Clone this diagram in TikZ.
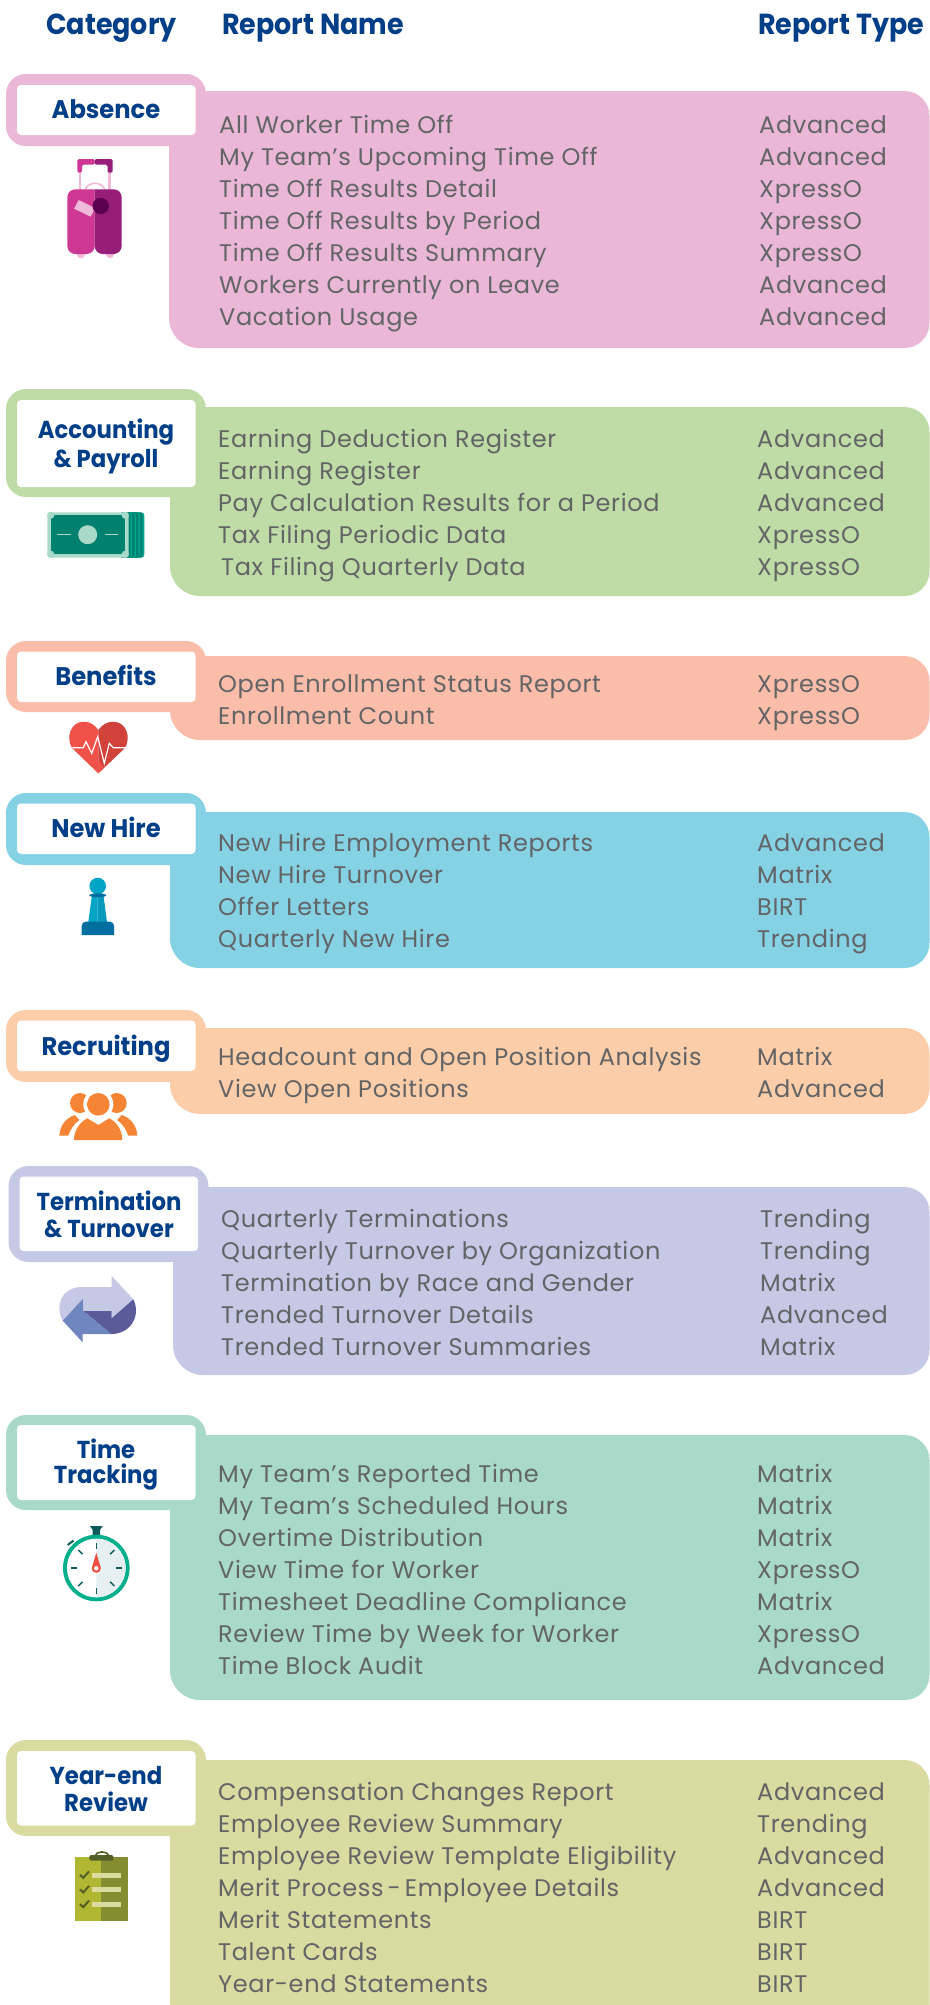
\documentclass[tikz,border=0pt]{standalone}
\usepackage{fontspec}
\usetikzlibrary{calc}
\setmainfont{Poppins}
\newfontfamily\bodyf[LetterSpace=2.7]{Poppins}
\newfontfamily\headf[FakeStretch=0.93]{Poppins}
\newfontfamily\tabf[FakeStretch=0.95]{Poppins}
\newfontfamily\tabn[FakeStretch=0.93]{Poppins}
\definecolor{navy}{HTML}{003F87}
\definecolor{txt}{HTML}{636466}
\definecolor{cAbs}{HTML}{EAB8D6}
\definecolor{cAcc}{HTML}{BFDCA6}
\definecolor{cBen}{HTML}{FABDAA}
\definecolor{cNew}{HTML}{85D2E5}
\definecolor{cRec}{HTML}{FCCDA9}
\definecolor{cTer}{HTML}{C5C9E5}
\definecolor{cTim}{HTML}{A9DAC9}
\definecolor{cYer}{HTML}{D9DBA1}
\tikzset{
  rowtext/.style={anchor=base west,inner sep=0pt,text=txt,font=\bodyf\fontsize{24}{28}\selectfont},
  headtext/.style={anchor=base west,inner sep=0pt,text=navy,font=\headf\bfseries\fontsize{29}{32}\selectfont},
  tabtext/.style={anchor=base,inner sep=0pt,text=navy,font=\tabf\bfseries\fontsize{25.5}{28}\selectfont},
  tabtwo/.style={anchor=base,inner sep=0pt,text=navy,font=\tabn\bfseries\fontsize{24.5}{28}\selectfont},
}
% #1 colour, #2 panel left, #3 panel top, #4 panel bottom, #5 tab left, #6 tab top, #7 tab bottom, #8 inner top, #9 inner bottom
\newcommand{\cardshape}[9]{%
  \fill[#1] (#2,#3) [rounded corners=25pt] -- (929.5,#3) -- (929.5,#4) [rounded corners=30pt] -- (#2,#4) [sharp corners] -- cycle;
  \fill[#1,rounded corners=20pt] (#5,#6) rectangle ++(200,#7-#6);
  \fill[white,rounded corners=4pt] (#5+11,#8) rectangle ++(178.5,#9-#8);
}
\begin{document}
\begin{tikzpicture}[x=1pt,y=-1pt]
\useasboundingbox (0,0) rectangle (929,2005);
\fill[white] (0,0) rectangle (929,2005);
% headers
\node[headtext] (hCat) at (46,34) {Category};
\node[headtext] (hName) at (222,34) {Report Name};
\node[headtext] (hType) at (758,34) {Report Type};
% Cards
\cardshape{cAbs}{169}{91}{348}{6}{74}{146}{85}{135}
\cardshape{cAcc}{170}{407}{596}{6}{389}{497}{400}{487}
\cardshape{cBen}{170}{656}{740}{6}{641}{712}{651.5}{702}
\cardshape{cNew}{170}{812}{968}{6}{793}{865}{803.5}{854}
\cardshape{cRec}{170}{1028}{1114}{6}{1010}{1082}{1020.5}{1071}
\cardshape{cTer}{173}{1187}{1375}{8.5}{1166}{1262}{1176.5}{1251}
\cardshape{cTim}{170}{1435}{1700}{6}{1415}{1510}{1425}{1500}
\cardshape{cYer}{170}{1760}{2030}{6}{1740}{1836}{1751}{1825.5}
% tab labels
\node[tabtext] (tAbs) at (106,118) {Absence};
\node[tabtwo] (tAcc1) at (106,438) {Accounting};
\node[tabtwo] (tAcc2) at (106,467) {\& Payroll};
\node[tabtext] (tBen) at (106,685) {Benefits};
\node[tabtext] (tNew) at (106,837) {New Hire};
\node[tabtext] (tRec) at (106,1055) {Recruiting};
\node[tabtwo] (tTer1) at (109,1210) {Termination};
\node[tabtwo] (tTer2) at (109,1237) {\& Turnover};
\node[tabtwo] (tTim1) at (106,1458) {Time};
\node[tabtwo] (tTim2) at (106,1483) {Tracking};
\node[tabtwo] (tYer1) at (106,1784) {Year-end};
\node[tabtwo] (tYer2) at (106,1811) {Review};
% Absence rows
\node[rowtext] (a1) at (219,133) {All Worker Time Off};
\node[rowtext] (a2) at (219,165) {My Team’s Upcoming Time Off};
\node[rowtext] (a3) at (219,197) {Time Off Results Detail};
\node[rowtext] (a4) at (219,229) {Time Off Results by Period};
\node[rowtext] (a5) at (219,261) {Time Off Results Summary};
\node[rowtext] (a6) at (219,293) {Workers Currently on Leave};
\node[rowtext] (a7) at (219,325) {Vacation Usage};
\node[rowtext] (at1) at (759,133) {Advanced};
\node[rowtext] (at2) at (759,165) {Advanced};
\node[rowtext] (at3) at (759,197) {XpressO};
\node[rowtext] (at4) at (759,229) {XpressO};
\node[rowtext] (at5) at (759,261) {XpressO};
\node[rowtext] (at6) at (759,293) {Advanced};
\node[rowtext] (at7) at (759,325) {Advanced};
% Accounting rows
\node[rowtext] (b1) at (218,447) {Earning Deduction Register};
\node[rowtext] (b2) at (218,479) {Earning Register};
\node[rowtext] (b3) at (218,511) {Pay Calculation Results for a Period};
\node[rowtext] (b4) at (218,543) {Tax Filing Periodic Data};
\node[rowtext] (b5) at (221,575) {Tax Filing Quarterly Data};
\node[rowtext] (bt1) at (757,447) {Advanced};
\node[rowtext] (bt2) at (757,479) {Advanced};
\node[rowtext] (bt3) at (757,511) {Advanced};
\node[rowtext] (bt4) at (757,543) {XpressO};
\node[rowtext] (bt5) at (757,575) {XpressO};
% Benefits rows
\node[rowtext] (c1) at (218,692) {Open Enrollment Status Report};
\node[rowtext] (c2) at (218,724) {Enrollment Count};
\node[rowtext] (ct1) at (757,692) {XpressO};
\node[rowtext] (ct2) at (757,724) {XpressO};
% New Hire rows
\node[rowtext] (d1) at (218,851) {New Hire Employment Reports};
\node[rowtext] (d2) at (218,883) {New Hire Turnover};
\node[rowtext] (d3) at (218,915) {Offer Letters};
\node[rowtext] (d4) at (218,947) {Quarterly New Hire};
\node[rowtext] (dt1) at (757,851) {Advanced};
\node[rowtext] (dt2) at (757,883) {Matrix};
\node[rowtext] (dt3) at (757,915) {BIRT};
\node[rowtext] (dt4) at (757,947) {Trending};
% Recruiting rows
\node[rowtext] (e1) at (218,1065) {Headcount and Open Position Analysis};
\node[rowtext] (e2) at (218,1097) {View Open Positions};
\node[rowtext] (et1) at (757,1065) {Matrix};
\node[rowtext] (et2) at (757,1097) {Advanced};
% Termination rows
\node[rowtext] (f1) at (221,1227) {Quarterly Terminations};
\node[rowtext] (f2) at (221,1259) {Quarterly Turnover by Organization};
\node[rowtext] (f3) at (221,1291) {Termination by Race and Gender};
\node[rowtext] (f4) at (221,1323) {Trended Turnover Details};
\node[rowtext] (f5) at (221,1355) {Trended Turnover Summaries};
\node[rowtext] (ft1) at (760,1227) {Trending};
\node[rowtext] (ft2) at (760,1259) {Trending};
\node[rowtext] (ft3) at (760,1291) {Matrix};
\node[rowtext] (ft4) at (760,1323) {Advanced};
\node[rowtext] (ft5) at (760,1355) {Matrix};
% Time rows
\node[rowtext] (g1) at (218,1482) {My Team’s Reported Time};
\node[rowtext] (g2) at (218,1514) {My Team’s Scheduled Hours};
\node[rowtext] (g3) at (218,1546) {Overtime Distribution};
\node[rowtext] (g4) at (218,1578) {View Time for Worker};
\node[rowtext] (g5) at (218,1610) {Timesheet Deadline Compliance};
\node[rowtext] (g6) at (218,1642) {Review Time by Week for Worker};
\node[rowtext] (g7) at (218,1674) {Time Block Audit};
\node[rowtext] (gt1) at (757,1482) {Matrix};
\node[rowtext] (gt2) at (757,1514) {Matrix};
\node[rowtext] (gt3) at (757,1546) {Matrix};
\node[rowtext] (gt4) at (757,1578) {XpressO};
\node[rowtext] (gt5) at (757,1610) {Matrix};
\node[rowtext] (gt6) at (757,1642) {XpressO};
\node[rowtext] (gt7) at (757,1674) {Advanced};
% Year-end rows
\node[rowtext] (h1) at (218,1800) {Compensation Changes Report};
\node[rowtext] (h2) at (218,1832) {Employee Review Summary};
\node[rowtext] (h3) at (218,1864) {Employee Review Template Eligibility};
\node[rowtext] (h4) at (218,1896) {Merit Process\,-\,Employee Details};
\node[rowtext] (h5) at (218,1928) {Merit Statements};
\node[rowtext] (h6) at (218,1960) {Talent Cards};
\node[rowtext] (h7) at (218,1992) {Year-end Statements};
\node[rowtext] (ht1) at (757,1800) {Advanced};
\node[rowtext] (ht2) at (757,1832) {Trending};
\node[rowtext] (ht3) at (757,1864) {Advanced};
\node[rowtext] (ht4) at (757,1896) {Advanced};
\node[rowtext] (ht5) at (757,1928) {BIRT};
\node[rowtext] (ht6) at (757,1960) {BIRT};
\node[rowtext] (ht7) at (757,1992) {BIRT};
% ---- suitcase
\definecolor{sL}{HTML}{CF3794}\definecolor{sR}{HTML}{971E78}\definecolor{sP}{HTML}{EFB9D9}\definecolor{sD}{HTML}{5B0050}
\fill[sP] (78.7,170) rectangle (81,190);
\fill[sP] (108.3,170) rectangle (110.7,190);
\draw[sP,line width=1.6pt] (85,190) .. controls (88,181) and (102,181) .. (105,190);
\fill[sL,rounded corners=1.5pt] (77.3,172.7) -- (77.3,159) -- (94.7,159) -- (94.7,164.7) -- (82,164.7) -- (82,172.7) -- cycle;
\fill[sR,rounded corners=1.5pt] (112.7,172.7) -- (112.7,159) -- (94.7,159) -- (94.7,164.7) -- (107.5,164.7) -- (107.5,172.7) -- cycle;
\fill[sP] (81,254) circle [x radius=4.2,y radius=4.3];
\fill[sP] (110,254) circle [x radius=4.2,y radius=4.3];
\fill[sL] (94.7,189.3) [rounded corners=8pt] -- (67.3,189.3) -- (67.3,254) -- (94.7,254) [sharp corners] -- cycle;
\fill[sR] (94.7,189.3) [rounded corners=8pt] -- (121.7,189.3) -- (121.7,254) -- (94.7,254) [sharp corners] -- cycle;
\fill[sP] (74,208.7) -- (78.7,200) -- (95,208) -- (90.7,216.7) -- cycle;
\fill[sD] (100.7,206) circle [radius=8.2];
% ---- money
\definecolor{mD}{HTML}{00806E}\definecolor{mL}{HTML}{A9DAC9}\definecolor{mT}{HTML}{00A78E}
\fill[mT,rounded corners=3pt] (120,512.3) rectangle (144.3,557.7);
\fill[mD,rounded corners=3pt] (120,512.3) rectangle (142.5,557.7);
\fill[mT,rounded corners=3pt] (120,512.3) rectangle (140,557.7);
\fill[mD,rounded corners=3pt] (120,512.3) rectangle (138.5,557.7);
\fill[mT,rounded corners=3pt] (120,512.3) rectangle (136,557.7);
\fill[mD,rounded corners=3pt] (120,512.3) rectangle (134.5,557.7);
\fill[mT,rounded corners=3pt] (120,512.3) rectangle (132,557.7);
\fill[mD,rounded corners=3pt] (120,512.3) rectangle (130.5,557.7);
\fill[mL,rounded corners=3pt] (47.3,512.3) rectangle (128.7,557.7);
\fill[mD] (50.7,515.3) rectangle (125.3,554.3);
\foreach \cx/\cy in {50.7/515.3,125.3/515.3,50.7/554.3,125.3/554.3}{\fill[mL] (\cx,\cy) circle [radius=3.6];}
\fill[mL] (87.7,534.7) circle [radius=9.5];
\fill[mL] (57.3,534) rectangle (70.7,535.4);
\fill[mL] (105,534) rectangle (118,535.4);
% ---- heart
\definecolor{hL}{HTML}{F05249}\definecolor{hR}{HTML}{D1423A}
\fill[hL] (98.3,773.3) -- (72,748) .. controls (66,738) and (70,721.7) .. (84,721.7) .. controls (90,721.7) and (95,725) .. (98.3,730) -- cycle;
\fill[hR] (98.3,773.3) -- (125,748) .. controls (131,738) and (127,721.7) .. (113,721.7) .. controls (107,721.7) and (102,725) .. (98.3,730) -- cycle;
\fill[hL] (98.3,773.3) -- (104,768) -- (98.3,760) -- cycle;
\draw[white,line width=1.2pt] (72.3,747.7) -- (83.3,747.7) -- (86,741.7) -- (91.7,753.3) -- (97.7,736.7) -- (104.3,763.3) -- (109.3,743.3) -- (113.3,747.7) -- (126,747.7);
% ---- pawn
\definecolor{pA}{HTML}{00A5C5}\definecolor{pB}{HTML}{0A9ABB}\definecolor{pC}{HTML}{006FA0}
\fill[pA] (97.7,886) circle [radius=8.3];
\fill[pA] (91.7,897) -- (97.7,897) -- (97.7,922) -- (88.3,922) -- cycle;
\fill[pB] (103.7,897) -- (97.7,897) -- (97.7,922) -- (107,922) -- cycle;
\fill[pC] (97.7,895.3) circle [x radius=8.5,y radius=2];
\fill[pC] (81.7,935) [rounded corners=4pt] -- (81.7,921.7) -- (114,921.7) [sharp corners] -- (114,935) -- cycle;
% ---- people
\definecolor{oR}{HTML}{F58534}
\fill[oR] (80,1103) circle [radius=10];
\fill[oR] (116.7,1103) circle [radius=10];
\fill[white] (98.3,1104.3) circle [radius=15];
\fill[oR] (98.3,1104.3) circle [radius=11.3];
\fill[oR] (59.3,1135.7) .. controls (60,1125) and (66,1118) .. (75,1115) -- (79.3,1120) .. controls (74,1124) and (70,1130) .. (68.3,1135.7) -- cycle;
\fill[oR] (137.3,1135.7) .. controls (136.6,1125) and (130.6,1118) .. (121.6,1115) -- (117.3,1120) .. controls (122.6,1124) and (126.6,1130) .. (128.3,1135.7) -- cycle;
\fill[oR] (74,1140) .. controls (74,1130) and (80,1122) .. (87.3,1118.3) -- (98.3,1125) -- (109.3,1118.3) .. controls (116.6,1122) and (122.3,1130) .. (122.3,1140) -- cycle;
% ---- arrows
\definecolor{ar1}{HTML}{C5C9E5}\definecolor{ar2}{HTML}{5B5B9A}\definecolor{ar3}{HTML}{6F86BF}
\fill[ar1] (62.7,1320.7) .. controls (55,1308) and (60,1287) .. (82,1287) -- (111.7,1287) -- (111.7,1276) -- (133.3,1299.3) -- (111.7,1318.3) -- (111.7,1311) -- (83.3,1311) -- (82.7,1299) -- cycle;
\fill[ar2] (83.3,1311) -- (111.7,1311) -- (111.7,1318.3) -- (133.3,1299.3) .. controls (141,1314) and (132,1334) .. (111,1334) -- cycle;
\fill[ar3] (62.7,1320.7) -- (82.7,1299) -- (83.3,1311) -- (111,1334) -- (82.7,1334) -- (82.7,1342.3) -- cycle;
% ---- stopwatch
\definecolor{wG}{HTML}{00B08D}\definecolor{wD}{HTML}{0E5A5A}\definecolor{wE}{HTML}{E6F0F0}\definecolor{wR}{HTML}{EE4F45}
\fill[wD] (90,1526) -- (102.7,1526) -- (100,1530) -- (100,1537) -- (92.7,1537) -- (92.7,1530) -- cycle;
\draw[wD,line width=2pt] (67.7,1545) -- (73.5,1540.5);
\fill[wG] (96.3,1568) circle [radius=33.3];
\fill[white] (96.3,1568) circle [radius=29.3];
\fill[wE] (96.3,1538.7) arc[start angle=-90,end angle=90,radius=29.3] -- cycle;
\foreach \a in {0,45,...,315}{\draw[wD,line width=1.4pt] ($(96.3,1568)+(\a:19.5)$) -- ($(96.3,1568)+(\a:25.5)$);}
\fill[wR] (96.3,1552.7) -- (100.8,1568) -- (91.8,1568) -- cycle;
\fill[wR] (96.3,1568.3) circle [radius=4.5];
\fill[white] (96.3,1568.3) circle [radius=2.2];
% ---- clipboard
\definecolor{kL}{HTML}{B0B733}\definecolor{kR}{HTML}{858D30}\definecolor{kD}{HTML}{545F25}\definecolor{kB}{HTML}{DADC9F}
\fill[kL] (75,1857) rectangle (101.3,1920.7);
\fill[kR] (101.3,1857) rectangle (128,1920.7);
\draw[kD,line width=1.6pt] (95,1856) .. controls (96,1850.5) and (108,1850.5) .. (109,1856);
\fill[kD,rounded corners=1.5pt] (89.3,1855) rectangle (113.3,1860.7);
\foreach \yy in {1875.3,1889.9,1904.6}{
  \fill[kB] (92,\yy-2.5) rectangle (121,\yy+2.5);
  \draw[kD,line width=2pt] (80,\yy-.5) -- (83.3,\yy+2.5) -- (89,\yy-4);
}
\end{tikzpicture}
\end{document}
